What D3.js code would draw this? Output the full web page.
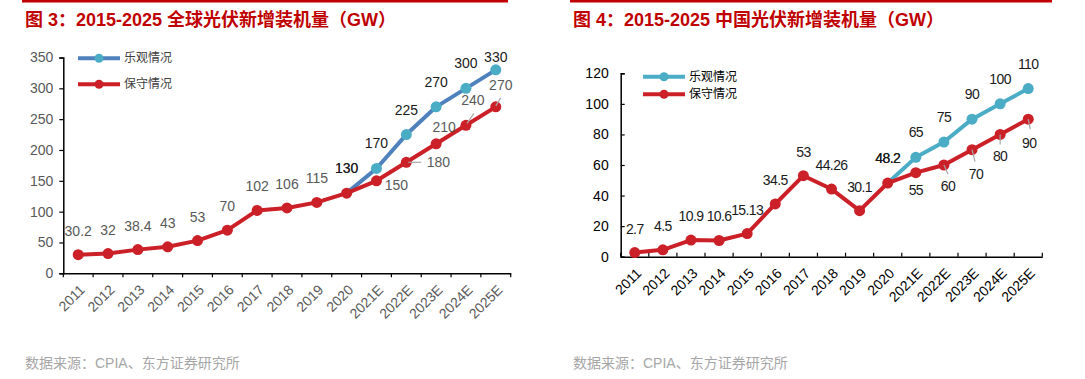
<!DOCTYPE html>
<html><head><meta charset="utf-8">
<script src="https://cdn.jsdelivr.net/npm/d3@7"></script>
<style>body{margin:0;background:#fff} svg{display:block}</style>
</head><body><svg id="c" width="1085" height="379"></svg>
<script>
// ---------- data ----------
const years = ["2011","2012","2013","2014","2015","2016","2017","2018","2019","2020","2021E","2022E","2023E","2024E","2025E"];
const globalConservative = [30.2,32,38.4,43,53,70,102,106,115,130,150,180,210,240,270];
const globalOptimistic   = [null,null,null,null,null,null,null,null,null,130,170,225,270,300,330];
const globalTicks = [0,50,100,150,200,250,300,350];
const chinaConservative = [2.7,4.5,10.9,10.6,15.13,34.5,53,44.26,30.1,48.2,55,60,70,80,90];
const chinaOptimistic   = [null,null,null,null,null,null,null,null,null,48.2,65,75,90,100,110];
const chinaTicks = [0,20,40,60,80,100,120];
const seriesNames = ["乐观情况","保守情况"];
const titles = ["图 3：2015-2025 全球光伏新增装机量（GW）","图 4：2015-2025 中国光伏新增装机量（GW）"];
const sourceText = "数据来源：CPIA、东方证券研究所";

// ---------- layout (label placement, not data) ----------
const A = [0,-24], B = [0,-25];
const globalConsLabelPos = [A,A,A,A,A,A,A,A,A,B,[20,4],[32,0],[8,-17],[7,-25],[5,-22]];
const globalConsLeader   = [null,null,null,null,null,null,null,null,null,null,null,[2,0,15,0],null,[1,-2,8,-12],[0,-1,5,-9]];
const chinaConsLabelPos  = [A,A,A,A,A,A,A,A,A,B,[0,17],[4,21],[4,24],[0,22],[1,24]];
const chinaConsLeader    = [null,null,null,null,null,null,null,null,null,null,null,[0,0,4,9],[0,0,3,12],[0,0,0,10],[0,0,2,10]];

const svg = d3.select("#c");
const FONT = "'Liberation Sans', Arial, 'Noto Sans CJK SC', sans-serif";

function drawChart(cfg){
  const g = svg.append("g");
  g.append("line").attr("x1",cfg.ruleX0).attr("x2",cfg.ruleX1).attr("y1",1.2).attr("y2",1.2)
    .attr("stroke","#C00000").attr("stroke-width",2.4);
  g.append("text").attr("x",cfg.ruleX0+3).attr("y",25.5).text(cfg.title)
    .attr("fill","#C00000").attr("font-size",18).attr("font-weight","bold").attr("font-family",FONT);
  g.append("text").attr("x",cfg.ruleX0+3).attr("y",368).text(sourceText)
    .attr("fill","#A6A6A6").attr("font-size",14).attr("font-family",FONT);

  const x = d3.scaleBand().domain(years).range([cfg.x0,cfg.x1]);
  const y = d3.scaleLinear().domain([0,cfg.ticks[cfg.ticks.length-1]]).range([cfg.y0,cfg.yTop]);
  const cx = d => x(d)+x.bandwidth()/2;

  const ya = g.append("g").attr("transform",`translate(${cfg.x0},0)`)
    .call(d3.axisLeft(y).tickValues(cfg.ticks).tickSize(cfg.yTickInside?-4:4).tickPadding(cfg.yPad));
  ya.select(".domain").attr("stroke","#000").attr("stroke-width",1.5);
  ya.selectAll(".tick line").attr("stroke","#000").attr("stroke-width",1.2);
  ya.selectAll("text").attr("fill",cfg.tickColor).attr("font-size",cfg.yFont).attr("font-family",FONT);

  const xa = g.append("g").attr("transform",`translate(0,${cfg.y0})`)
    .call(d3.axisBottom(x).tickSize(0).tickFormat(d=>d));
  xa.select(".domain").attr("stroke","#000").attr("stroke-width",1.5);
  xa.selectAll(".tick line").remove();
  xa.selectAll("text").attr("fill",cfg.tickColor).attr("font-size",14).attr("font-family",FONT)
    .attr("text-anchor","end").attr("dy",null).attr("y",0)
    .attr("transform",`translate(${cfg.xlDx},${cfg.xlDy}) rotate(-45)`)
    .attr("dominant-baseline","central");
  const bounds = years.map(d=>x(d)).concat([cfg.x1]);
  g.selectAll(null).data(bounds).enter().append("line")
    .attr("x1",d=>d).attr("x2",d=>d).attr("y1",cfg.y0).attr("y2",cfg.y0+cfg.xTick)
    .attr("stroke","#000").attr("stroke-width",1.2);

  const line = d3.line().defined(d=>d[1]!=null).x(d=>cx(d[0])).y(d=>y(d[1]));
  const opt = years.map((d,i)=>[d,cfg.opt[i]]);
  const cons = years.map((d,i)=>[d,cfg.cons[i]]);

  g.append("path").datum(opt).attr("d",line).attr("fill","none")
    .attr("stroke",cfg.optLine).attr("stroke-width",4).attr("stroke-linejoin","round");
  g.selectAll(null).data(opt.filter((d,i)=>d[1]!=null && i>9)).enter().append("circle")
    .attr("cx",d=>cx(d[0])).attr("cy",d=>y(d[1])).attr("r",5.5).attr("fill",cfg.optMarker);
  g.append("path").datum(cons).attr("d",line).attr("fill","none")
    .attr("stroke","#CB2027").attr("stroke-width",4).attr("stroke-linejoin","round");
  g.selectAll(null).data(cons).enter().append("circle")
    .attr("cx",d=>cx(d[0])).attr("cy",d=>y(d[1])).attr("r",5.5).attr("fill","#CB2027");

  cons.forEach((d,i)=>{
    const L = cfg.consLeader[i]; if(!L) return;
    const px=cx(d[0]), py=y(d[1]);
    g.append("line").attr("x1",px+L[0]).attr("y1",py+L[1]).attr("x2",px+L[2]).attr("y2",py+L[3])
      .attr("stroke","#A6A6A6").attr("stroke-width",1.2);
  });
  cons.forEach((d,i)=>{
    const P = cfg.consPos[i]; if(!P) return;
    g.append("text").attr("x",cx(d[0])+P[0]).attr("y",y(d[1])+P[1]).text(d[1])
      .attr("text-anchor","middle").attr("dominant-baseline","central")
      .attr("fill",cfg.consLabelColor).attr("font-size",cfg.labelFont).attr("font-family",FONT)
      .attr("letter-spacing",cfg.ls);
  });
  opt.forEach((d,i)=>{
    if(d[1]==null) return;
    const py = Math.max(y(d[1])-25, cfg.labelMinY);
    g.append("text").attr("x",cx(d[0])).attr("y",py).text(d[1])
      .attr("text-anchor","middle").attr("dominant-baseline","central")
      .attr("fill","#1A1A1A").attr("font-size",cfg.labelFont).attr("font-family",FONT)
      .attr("letter-spacing",cfg.ls);
  });

  const lg = g.append("g");
  [[cfg.optLine,cfg.optMarker],["#CB2027","#CB2027"]].forEach((c,i)=>{
    const ly = cfg.legY + i*cfg.legGap;
    lg.append("line").attr("x1",cfg.legX).attr("x2",cfg.legX+42).attr("y1",ly).attr("y2",ly)
      .attr("stroke",c[0]).attr("stroke-width",4);
    lg.append("circle").attr("cx",cfg.legX+21).attr("cy",ly).attr("r",4.5).attr("fill",c[1]);
    lg.append("text").attr("x",cfg.legX+46).attr("y",ly).attr("dominant-baseline","central")
      .text(seriesNames[i]).attr("fill",cfg.legColor).attr("font-size",12).attr("font-family",FONT);
  });
}

drawChart({
  title:titles[0], ruleX0:22, ruleX1:508,
  x0:63.3, x1:510.7, y0:273.3, yTop:57.5, ticks:globalTicks,
  yTickInside:false, yPad:6, yFont:14, tickColor:"#595959", xlDx:4, xlDy:14, xTick:4,
  cons:globalConservative, opt:globalOptimistic,
  consPos:globalConsLabelPos, consLeader:globalConsLeader,
  consLabelColor:"#595959", labelFont:14, ls:0, labelMinY:57,
  optLine:"#4F81BD", optMarker:"#4BACC6",
  legX:78, legY:58.3, legGap:26, legColor:"#404040"
});
drawChart({
  title:titles[1], ruleX0:570, ruleX1:1052,
  x0:620.7, x1:1042.3, y0:256.7, yTop:73.3, ticks:chinaTicks,
  yTickInside:true, yPad:12, yFont:14, tickColor:"#000", xlDx:4, xlDy:14, xTick:-4,
  cons:chinaConservative, opt:chinaOptimistic,
  consPos:chinaConsLabelPos, consLeader:chinaConsLeader,
  consLabelColor:"#1A1A1A", labelFont:14, ls:-0.6, labelMinY:0,
  optLine:"#4BACC6", optMarker:"#4BACC6",
  legX:643, legY:76.7, legGap:17.6, legColor:"#000"
});
</script></body></html>
